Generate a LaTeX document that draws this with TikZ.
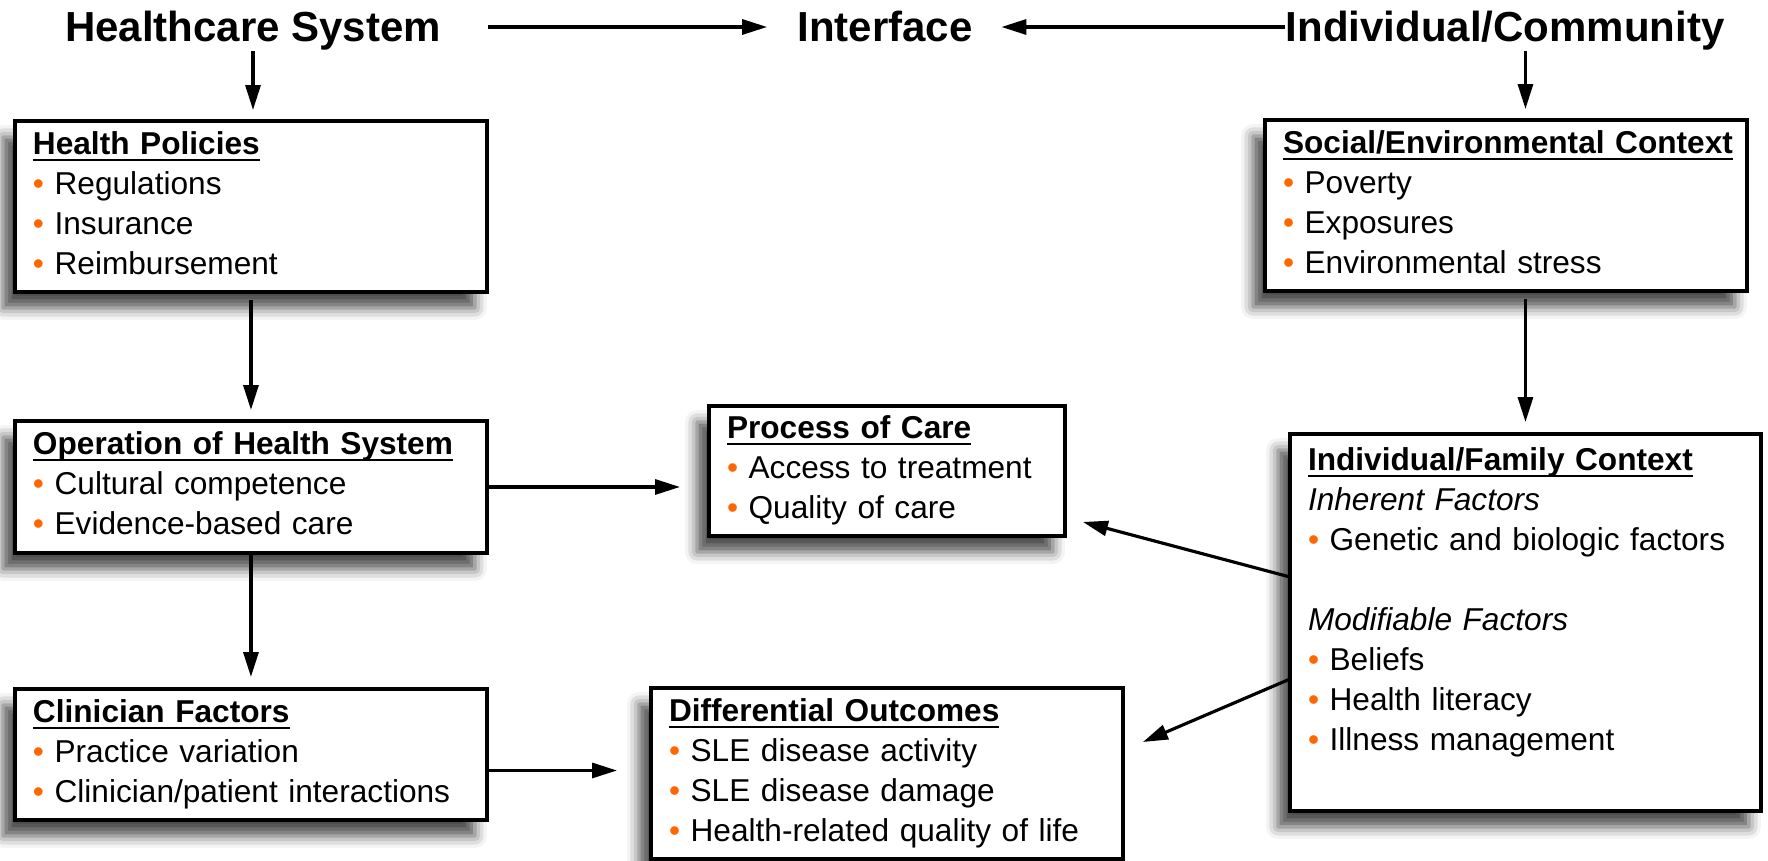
\documentclass[tikz,border=0pt]{standalone}
\usepackage{fontspec}
\setmainfont{Liberation Sans}
\usepackage{xcolor}
\usepackage{tikz}
\usetikzlibrary{arrows.meta, calc, shadows.blur}

\definecolor{bulletorange}{RGB}{255,102,0}
\newcommand{\bodyfont}{\fontsize{18pt}{22.76pt}\selectfont}
\newcommand{\headfont}{\fontsize{23.9pt}{28pt}\selectfont\bfseries}
\newsavebox{\titlebox}
\newcommand{\boxtitle}[1]{\strut\sbox{\titlebox}{\textbf{#1}}%
  \rlap{\rule[-3.5pt]{\wd\titlebox}{1.1pt}}\usebox{\titlebox}}
\newcommand{\bul}[1]{{\color{bulletorange}\textbullet}\ #1}

\tikzset{
  box/.style={
    rectangle, draw, line width=1.9pt, fill=white,
    anchor=north west, align=left, outer sep=0pt,
    inner xsep=0.36cm, inner ysep=0pt,
    font=\bodyfont,
    blur shadow={shadow xshift=-0.24cm, shadow yshift=-0.32cm,
      shadow blur radius=0.24cm, shadow opacity=70}
  },
  heading/.style={font=\headfont, anchor=base, inner sep=0pt,
    text height=0.6cm, text depth=0pt},
  line/.style={draw, line width=1.8pt, -{Triangle[length=0.5cm, width=0.3cm]}},
}

\begin{document}
\begin{tikzpicture}[x=0.02cm, y=-0.02cm]
  \useasboundingbox (0,0) rectangle (1768,861);

  % column headings
  \node[heading] (hs) at (253,42) {Healthcare System};
  \node[heading] (iface) at (885,42) {Interface};
  \node[heading] (ic) at (1505,42) {Individual/Community};

  % healthcare system side
  \node[box, text width=8.72cm, minimum height=3.42cm] (hp) at (15,121)
    {\boxtitle{Health Policies}\\ \bul{Regulations}\\ \bul{Insurance}\\
     \bul{Reimbursement}\strut};
  \node[box, text width=8.72cm, minimum height=2.64cm] (ohs) at (15,421)
    {\boxtitle{Operation of Health System}\\ \bul{Cultural competence}\\
     \bul{Evidence-based care}\strut};
  \node[box, text width=8.72cm, minimum height=2.62cm] (cf) at (15,689)
    {\boxtitle{Clinician Factors}\\ \bul{Practice variation}\\
     \bul{Clinician/patient interactions}\strut};

  % interface
  \node[box, text width=6.40cm, minimum height=2.60cm] (poc) at (709,406)
    {\boxtitle{Process of Care}\\ \bul{Access to treatment}\\
     \bul{Quality of care}\strut};
  \node[box, text width=8.72cm, minimum height=3.42cm] (do) at (651,688)
    {\boxtitle{Differential Outcomes}\\ \bul{SLE disease activity}\\
     \bul{SLE disease damage}\\ \bul{Health-related quality of life}\strut};

  % individual/community side
  \node[box, text width=8.92cm, minimum height=3.42cm] (sec) at (1265,120)
    {\boxtitle{Social/Environmental Context}\\ \bul{Poverty}\\ \bul{Exposures}\\
     \bul{Environmental stress}\strut};
  \node[box, text width=8.70cm, minimum height=7.54cm] (ifc) at (1290,434)
    {\boxtitle{Individual/Family Context}\\ \textit{Inherent Factors}\\
     \bul{Genetic and biologic factors}\\[22.76pt]
     \textit{Modifiable Factors}\\ \bul{Beliefs}\\ \bul{Health literacy}\\
     \bul{Illness management}\\ \strut};

  % arrows
  \draw[line, shorten <=0.18cm, shorten >=0.22cm] (hs.south) -- (hs.south |- hp.north);
  \draw[line, shorten <=0.94cm, shorten >=0.6cm] (hs.east) -- (iface.west);
  \draw[line, shorten >=0.57cm] (ic.west) -- (iface.east);
  \draw[line, shorten <=0.18cm, shorten >=0.22cm] (ic.south -| ifc.north) -- (sec.north -| ifc.north);
  \draw[line, shorten <=0.16cm, shorten >=0.22cm] (hp.south) -- (ohs.north);
  \draw[line, shorten >=0.24cm] (ohs.south) -- (cf.north);
  \draw[line, shorten >=0.58cm] (ohs.east) -- (ohs.east -| poc.west);
  \draw[line, shorten >=0.68cm] ($(cf.east)+(0,16)$) -- ($(cf.east -| do.west)+(0,16)$);
  \draw[line, shorten <=0.16cm, shorten >=0.24cm] (sec.south -| ifc.north) -- (ifc.north);
  \draw[line] ($(ifc.north west)+(0,143)$) -- ($(poc.south east)+(18,-14)$);
  \draw[line] ($(ifc.north west)+(0,245)$) -- ($(do.north east)+(20,54)$);
\end{tikzpicture}
\end{document}
